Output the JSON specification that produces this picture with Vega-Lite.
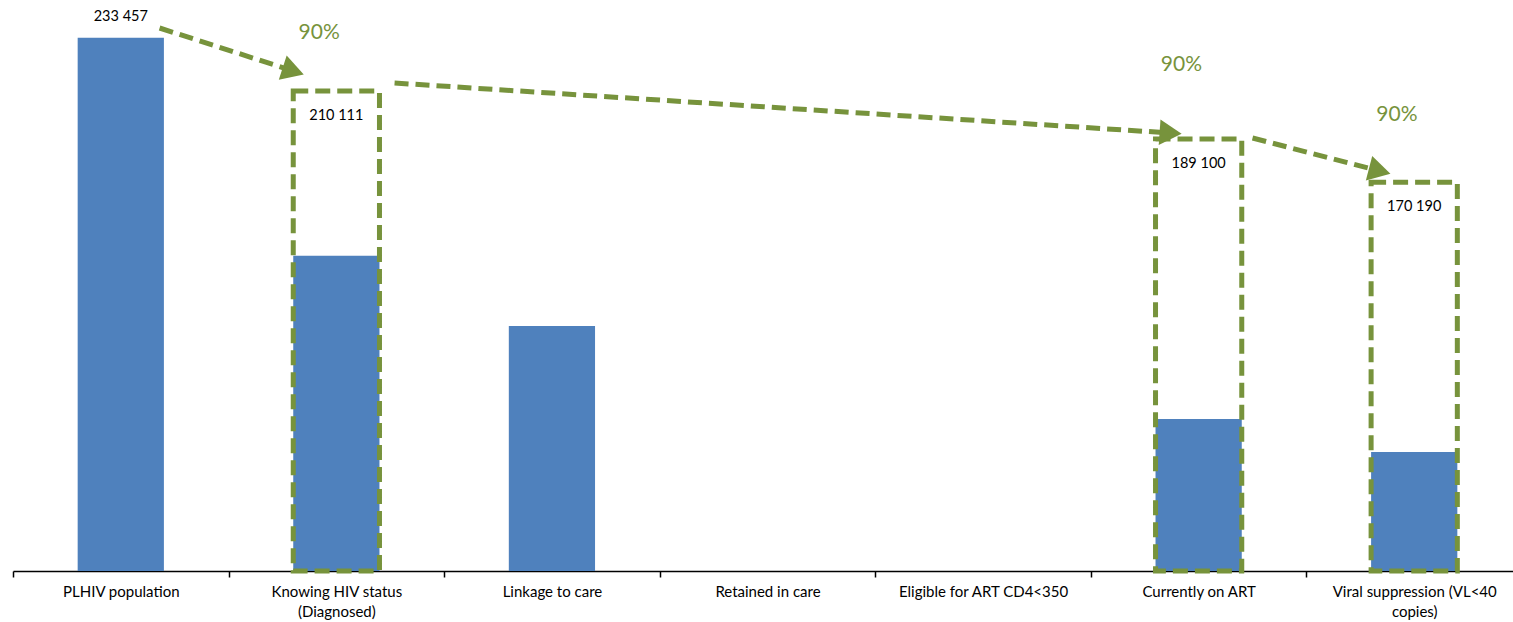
{
  "$schema": "https://vega.github.io/schema/vega-lite/v6.json",
  "width": 1509,
  "height": 571,
  "autosize": {"type": "none"},
  "padding": {"left": 13, "top": 0, "right": 0, "bottom": 51},
  "config": {
    "view": {"stroke": null},
    "font": "Lato",
    "locale": {"number": {"decimal": ".", "thousands": " ", "grouping": [3], "currency": ["", ""]}},
    "axisX": {
      "title": null,
      "tickBand": "extent",
      "domainColor": "#000000",
      "domainWidth": 1.5,
      "tickColor": "#000000",
      "tickWidth": 1.5,
      "tickSize": 6,
      "labelFont": "Lato",
      "labelFontSize": 15,
      "labelColor": "#000000",
      "labelPadding": 7,
      "labelLineHeight": 20,
      "labelAngle": 0,
      "labelLimit": 0
    }
  },
  "datasets": {
    "cascade": [
      {"stage": "PLHIV population", "value": 233457, "target": null},
      {"stage": "Knowing HIV status (Diagnosed)", "value": 138000, "target": 210111},
      {"stage": "Linkage to care", "value": 107300, "target": null},
      {"stage": "Retained in care", "value": 0, "target": null},
      {"stage": "Eligible for ART CD4<350", "value": 0, "target": null},
      {"stage": "Currently on ART", "value": 66550, "target": 189100},
      {"stage": "Viral suppression (VL<40 copies)", "value": 52100, "target": 170190}
    ],
    "arrows": [
      {"id": 1, "from": "PLHIV population", "to": "Knowing HIV status (Diagnosed)", "y_start": 237740, "y_end": 218900, "label": "90%", "label_y": 235500},
      {"id": 2, "from": "Knowing HIV status (Diagnosed)", "to": "Currently on ART", "y_start": 213660, "y_end": 191770, "label": "90%", "label_y": 221500},
      {"id": 3, "from": "Currently on ART", "to": "Viral suppression (VL<40 copies)", "y_start": 189580, "y_end": 175130, "label": "90%", "label_y": 199600}
    ]
  },
  "layer": [
    {
      "data": {"name": "cascade"},
      "mark": {"type": "bar", "color": "#4F81BD", "width": {"band": 0.4}},
      "encoding": {
        "x": {
          "field": "stage",
          "type": "nominal",
          "scale": {
            "domain": ["PLHIV population", "Knowing HIV status (Diagnosed)", "Linkage to care", "Retained in care", "Eligible for ART CD4<350", "Currently on ART", "Viral suppression (VL<40 copies)"],
            "paddingInner": 0,
            "paddingOuter": 0
          },
          "axis": {
            "labelExpr": "datum.value == 'Knowing HIV status (Diagnosed)' ? ['Knowing HIV status', '(Diagnosed)'] : datum.value == 'Viral suppression (VL<40 copies)' ? ['Viral suppression (VL<40', 'copies)'] : datum.value"
          }
        },
        "y": {"field": "value", "type": "quantitative", "scale": {"domain": [0, 250000], "nice": false}, "axis": null}
      }
    },
    {
      "data": {"name": "cascade"},
      "transform": [{"filter": "datum.target != null"}],
      "mark": {"type": "bar", "fill": null, "fillOpacity": 0, "stroke": "#77933C", "strokeWidth": 5, "strokeDash": [15, 7], "width": {"band": 0.4}},
      "encoding": {
        "x": {"field": "stage", "type": "nominal"},
        "y": {"field": "target", "type": "quantitative"}
      }
    },
    {
      "data": {"name": "cascade"},
      "transform": [{"filter": "datum.target != null"}],
      "mark": {"type": "text", "fontSize": 14.5, "color": "#000000", "baseline": "middle", "dy": 25},
      "encoding": {
        "x": {"field": "stage", "type": "nominal"},
        "y": {"field": "target", "type": "quantitative"},
        "text": {"field": "target", "type": "quantitative", "format": ",d"}
      }
    },
    {
      "data": {"name": "cascade"},
      "transform": [{"filter": "datum.stage == 'PLHIV population'"}],
      "mark": {"type": "text", "fontSize": 14.5, "color": "#000000", "baseline": "middle", "dy": -21},
      "encoding": {
        "x": {"field": "stage", "type": "nominal"},
        "y": {"field": "value", "type": "quantitative"},
        "text": {"field": "value", "type": "quantitative", "format": ",d"}
      }
    },
    {
      "data": {"name": "arrows"},
      "transform": [{"filter": "datum.id == 1"}],
      "mark": {"type": "rule", "stroke": "#77933C", "strokeWidth": 5, "strokeDash": [14, 7]},
      "encoding": {
        "x": {"field": "from", "type": "nominal", "bandPosition": 0.68},
        "x2": {"field": "to", "bandPosition": 0.3},
        "y": {"field": "y_start", "type": "quantitative"},
        "y2": {"field": "y_end"}
      }
    },
    {
      "data": {"name": "arrows"},
      "transform": [{"filter": "datum.id == 2"}],
      "mark": {"type": "rule", "stroke": "#77933C", "strokeWidth": 5, "strokeDash": [14, 7]},
      "encoding": {
        "x": {"field": "from", "type": "nominal", "bandPosition": 0.77},
        "x2": {"field": "to", "bandPosition": 0.37},
        "y": {"field": "y_start", "type": "quantitative"},
        "y2": {"field": "y_end"}
      }
    },
    {
      "data": {"name": "arrows"},
      "transform": [{"filter": "datum.id == 3"}],
      "mark": {"type": "rule", "stroke": "#77933C", "strokeWidth": 5, "strokeDash": [14, 7]},
      "encoding": {
        "x": {"field": "from", "type": "nominal", "bandPosition": 0.75},
        "x2": {"field": "to", "bandPosition": 0.34},
        "y": {"field": "y_start", "type": "quantitative"},
        "y2": {"field": "y_end"}
      }
    },
    {
      "data": {"name": "arrows"},
      "transform": [{"filter": "datum.id == 1"}],
      "mark": {"type": "point", "shape": "triangle-right", "filled": true, "opacity": 1, "color": "#77933C", "size": 650, "angle": 18},
      "encoding": {
        "x": {"field": "to", "type": "nominal", "bandPosition": 0.3},
        "y": {"field": "y_end", "type": "quantitative"}
      }
    },
    {
      "data": {"name": "arrows"},
      "transform": [{"filter": "datum.id == 2"}],
      "mark": {"type": "point", "shape": "triangle-right", "filled": true, "opacity": 1, "color": "#77933C", "size": 650, "angle": 4},
      "encoding": {
        "x": {"field": "to", "type": "nominal", "bandPosition": 0.37},
        "y": {"field": "y_end", "type": "quantitative"}
      }
    },
    {
      "data": {"name": "arrows"},
      "transform": [{"filter": "datum.id == 3"}],
      "mark": {"type": "point", "shape": "triangle-right", "filled": true, "opacity": 1, "color": "#77933C", "size": 650, "angle": 14.5},
      "encoding": {
        "x": {"field": "to", "type": "nominal", "bandPosition": 0.34},
        "y": {"field": "y_end", "type": "quantitative"}
      }
    },
    {
      "data": {"name": "arrows"},
      "mark": {"type": "text", "fontSize": 21, "color": "#77933C", "baseline": "middle"},
      "encoding": {
        "x": {"field": "to", "type": "nominal", "bandPosition": 0.42},
        "y": {"field": "label_y", "type": "quantitative"},
        "text": {"field": "label"}
      }
    }
  ]
}
